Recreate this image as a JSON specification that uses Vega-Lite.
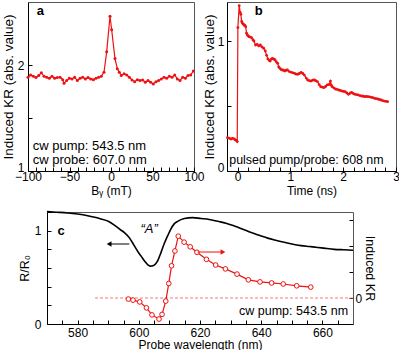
{
 "$schema": "https://vega.github.io/schema/vega-lite/v6.json",
 "padding": {"left": 0, "top": 1, "right": 0, "bottom": 0},
 "background": "white",
 "config": {
  "view": {"stroke": "#555", "strokeWidth": 1},
  "font": "Liberation Sans",
  "axis": {"grid": false, "domainColor": "black", "tickColor": "black", "labelColor": "black", "titleColor": "black", "labelFont": "Liberation Sans", "titleFont": "Liberation Sans", "labelFontSize": 12, "titleFontSize": 12, "titleFontWeight": "normal", "tickSize": -4, "domainWidth": 1, "tickWidth": 1, "labelFlush": false, "labelOverlap": false},
  "text": {"font": "Liberation Sans", "fontSize": 12, "color": "black"}
 },
 "spacing": 9,
 "datasets": {
  "a": [
   {"B": -100, "v": 1.888}, {"B": -96.8, "v": 1.91}, {"B": -93.6, "v": 1.897}, {"B": -90.4, "v": 1.885}, {"B": -87.1, "v": 1.904}, {"B": -83.9, "v": 1.929}, {"B": -80.7, "v": 1.897}, {"B": -77.5, "v": 1.888}, {"B": -74.3, "v": 1.878}, {"B": -71.1, "v": 1.897}, {"B": -67.9, "v": 1.878}, {"B": -64.7, "v": 1.885}, {"B": -61.4, "v": 1.888}, {"B": -58.2, "v": 1.865}, {"B": -56.6, "v": 1.83}, {"B": -53.4, "v": 1.856}, {"B": -50.2, "v": 1.878}, {"B": -47.0, "v": 1.872}, {"B": -43.8, "v": 1.888}, {"B": -40.6, "v": 1.856}, {"B": -37.3, "v": 1.878}, {"B": -34.1, "v": 1.888}, {"B": -30.9, "v": 1.872}, {"B": -27.7, "v": 1.885}, {"B": -24.5, "v": 1.872}, {"B": -21.3, "v": 1.865}, {"B": -18.1, "v": 1.878}, {"B": -14.9, "v": 1.888}, {"B": -11.6, "v": 1.897}, {"B": -8.4, "v": 1.936}, {"B": -5.2, "v": 2.128}, {"B": -1.2, "v": 2.465}, {"B": 0.8, "v": 2.337}, {"B": 4.8, "v": 2.064}, {"B": 7.6, "v": 1.968}, {"B": 10.0, "v": 1.936}, {"B": 12.4, "v": 1.904}, {"B": 15.7, "v": 1.92}, {"B": 18.9, "v": 1.91}, {"B": 22.1, "v": 1.888}, {"B": 25.3, "v": 1.862}, {"B": 28.5, "v": 1.846}, {"B": 31.7, "v": 1.865}, {"B": 34.9, "v": 1.856}, {"B": 38.2, "v": 1.862}, {"B": 41.4, "v": 1.84}, {"B": 44.6, "v": 1.856}, {"B": 47.8, "v": 1.84}, {"B": 51.0, "v": 1.824}, {"B": 54.2, "v": 1.846}, {"B": 57.4, "v": 1.856}, {"B": 60.6, "v": 1.872}, {"B": 63.9, "v": 1.888}, {"B": 67.1, "v": 1.878}, {"B": 70.3, "v": 1.897}, {"B": 73.5, "v": 1.888}, {"B": 76.7, "v": 1.91}, {"B": 79.9, "v": 1.872}, {"B": 83.1, "v": 1.856}, {"B": 86.3, "v": 1.888}, {"B": 89.6, "v": 1.878}, {"B": 92.8, "v": 1.904}, {"B": 96.0, "v": 1.91}, {"B": 99.2, "v": 1.946}
  ],
  "b": [
   {"t": -0.19, "v": 0.256}, {"t": -0.154, "v": 0.251}, {"t": -0.123, "v": 0.246}, {"t": -0.093, "v": 0.251}, {"t": -0.062, "v": 0.246}, {"t": -0.043, "v": 0.238}, {"t": -0.02, "v": 0.236}, {"t": -0.006, "v": 0.226}, {"t": 0.006, "v": 1.103}, {"t": 0.031, "v": 1.272}, {"t": 0.05, "v": 1.22}, {"t": 0.062, "v": 1.205}, {"t": 0.078, "v": 1.15}, {"t": 0.093, "v": 1.136}, {"t": 0.108, "v": 1.13}, {"t": 0.123, "v": 1.123}, {"t": 0.138, "v": 1.12}, {"t": 0.154, "v": 1.11}, {"t": 0.17, "v": 1.06}, {"t": 0.185, "v": 1.046}, {"t": 0.2, "v": 1.04}, {"t": 0.216, "v": 1.033}, {"t": 0.24, "v": 1.03}, {"t": 0.265, "v": 1.026}, {"t": 0.29, "v": 1.01}, {"t": 0.309, "v": 1.0}, {"t": 0.34, "v": 0.969}, {"t": 0.37, "v": 0.974}, {"t": 0.401, "v": 0.962}, {"t": 0.432, "v": 0.969}, {"t": 0.46, "v": 0.955}, {"t": 0.494, "v": 0.944}, {"t": 0.525, "v": 0.923}, {"t": 0.55, "v": 0.89}, {"t": 0.574, "v": 0.862}, {"t": 0.6, "v": 0.85}, {"t": 0.617, "v": 0.846}, {"t": 0.64, "v": 0.86}, {"t": 0.66, "v": 0.867}, {"t": 0.69, "v": 0.86}, {"t": 0.71, "v": 0.854}, {"t": 0.735, "v": 0.84}, {"t": 0.759, "v": 0.828}, {"t": 0.78, "v": 0.8}, {"t": 0.802, "v": 0.79}, {"t": 0.825, "v": 0.78}, {"t": 0.846, "v": 0.777}, {"t": 0.87, "v": 0.775}, {"t": 0.895, "v": 0.769}, {"t": 0.92, "v": 0.775}, {"t": 0.944, "v": 0.777}, {"t": 0.98, "v": 0.765}, {"t": 1.019, "v": 0.759}, {"t": 1.05, "v": 0.755}, {"t": 1.08, "v": 0.751}, {"t": 1.11, "v": 0.745}, {"t": 1.142, "v": 0.744}, {"t": 1.17, "v": 0.75}, {"t": 1.204, "v": 0.759}, {"t": 1.235, "v": 0.75}, {"t": 1.265, "v": 0.738}, {"t": 1.3, "v": 0.715}, {"t": 1.327, "v": 0.7}, {"t": 1.36, "v": 0.695}, {"t": 1.389, "v": 0.692}, {"t": 1.42, "v": 0.698}, {"t": 1.451, "v": 0.7}, {"t": 1.48, "v": 0.695}, {"t": 1.512, "v": 0.687}, {"t": 1.545, "v": 0.665}, {"t": 1.574, "v": 0.649}, {"t": 1.605, "v": 0.645}, {"t": 1.636, "v": 0.641}, {"t": 1.667, "v": 0.65}, {"t": 1.698, "v": 0.662}, {"t": 1.73, "v": 0.665}, {"t": 1.759, "v": 0.692}, {"t": 1.775, "v": 0.66}, {"t": 1.79, "v": 0.649}, {"t": 1.82, "v": 0.64}, {"t": 1.852, "v": 0.631}, {"t": 1.88, "v": 0.628}, {"t": 1.914, "v": 0.623}, {"t": 1.945, "v": 0.62}, {"t": 1.975, "v": 0.615}, {"t": 2.006, "v": 0.612}, {"t": 2.037, "v": 0.61}, {"t": 2.068, "v": 0.6}, {"t": 2.099, "v": 0.59}, {"t": 2.13, "v": 0.598}, {"t": 2.16, "v": 0.605}, {"t": 2.19, "v": 0.596}, {"t": 2.222, "v": 0.59}, {"t": 2.253, "v": 0.588}, {"t": 2.284, "v": 0.585}, {"t": 2.315, "v": 0.58}, {"t": 2.346, "v": 0.577}, {"t": 2.377, "v": 0.575}, {"t": 2.407, "v": 0.572}, {"t": 2.438, "v": 0.574}, {"t": 2.469, "v": 0.572}, {"t": 2.5, "v": 0.57}, {"t": 2.531, "v": 0.567}, {"t": 2.562, "v": 0.564}, {"t": 2.593, "v": 0.559}, {"t": 2.62, "v": 0.557}, {"t": 2.654, "v": 0.554}, {"t": 2.685, "v": 0.55}, {"t": 2.716, "v": 0.546}, {"t": 2.747, "v": 0.542}, {"t": 2.778, "v": 0.538}, {"t": 2.81, "v": 0.536}, {"t": 2.84, "v": 0.533}
  ],
  "cr": [
   {"lam": 570, "r": 1.204}, {"lam": 573, "r": 1.198}, {"lam": 576.8, "r": 1.19}, {"lam": 580, "r": 1.178}, {"lam": 583.3, "r": 1.16}, {"lam": 586, "r": 1.14}, {"lam": 587.6, "r": 1.125}, {"lam": 590, "r": 1.1}, {"lam": 592, "r": 1.06}, {"lam": 594, "r": 1.01}, {"lam": 595.3, "r": 0.98}, {"lam": 597, "r": 0.92}, {"lam": 598.5, "r": 0.84}, {"lam": 600, "r": 0.76}, {"lam": 600.7, "r": 0.73}, {"lam": 602, "r": 0.67}, {"lam": 603.7, "r": 0.62}, {"lam": 605, "r": 0.63}, {"lam": 606.2, "r": 0.68}, {"lam": 607.3, "r": 0.77}, {"lam": 608.3, "r": 0.86}, {"lam": 609.5, "r": 0.95}, {"lam": 610.5, "r": 1.02}, {"lam": 611.5, "r": 1.07}, {"lam": 612.7, "r": 1.1}, {"lam": 614.9, "r": 1.13}, {"lam": 617.6, "r": 1.14}, {"lam": 620.3, "r": 1.13}, {"lam": 623, "r": 1.12}, {"lam": 625.8, "r": 1.1}, {"lam": 628.5, "r": 1.08}, {"lam": 631.2, "r": 1.05}, {"lam": 634, "r": 1.015}, {"lam": 636.7, "r": 0.98}, {"lam": 639.4, "r": 0.95}, {"lam": 642.1, "r": 0.92}, {"lam": 645, "r": 0.895}, {"lam": 647.5, "r": 0.875}, {"lam": 650, "r": 0.857}, {"lam": 653, "r": 0.84}, {"lam": 655.7, "r": 0.83}, {"lam": 658.5, "r": 0.82}, {"lam": 661, "r": 0.81}, {"lam": 663.9, "r": 0.8}, {"lam": 667, "r": 0.795}, {"lam": 670, "r": 0.79}
  ],
  "ckr": [
   {"lam": 596.6, "kr": -0.04}, {"lam": 598.1, "kr": -0.08}, {"lam": 600.3, "kr": -0.15}, {"lam": 602.5, "kr": -0.38}, {"lam": 604.3, "kr": -0.65}, {"lam": 606.6, "kr": -0.81}, {"lam": 607.6, "kr": -0.63}, {"lam": 608.8, "kr": -0.12}, {"lam": 609.8, "kr": 0.56}, {"lam": 610.7, "kr": 1.24}, {"lam": 611.8, "kr": 1.81}, {"lam": 612.9, "kr": 2.38}, {"lam": 614.8, "kr": 2.15}, {"lam": 616.8, "kr": 1.97}, {"lam": 619.0, "kr": 1.76}, {"lam": 622.1, "kr": 1.49}, {"lam": 625.1, "kr": 1.27}, {"lam": 628.3, "kr": 1.12}, {"lam": 632.1, "kr": 0.92}, {"lam": 635.8, "kr": 0.7}, {"lam": 639.6, "kr": 0.62}, {"lam": 643.4, "kr": 0.58}, {"lam": 647.2, "kr": 0.54}, {"lam": 651.6, "kr": 0.47}, {"lam": 656.2, "kr": 0.42}
  ]
 },
 "vconcat": [
  {
   "bounds": "flush",
   "spacing": 33,
   "hconcat": [
    {
     "width": 166, "height": 169,
     "layer": [
      {
       "data": {"name": "a"},
       "mark": {"type": "line", "color": "#ee1111", "strokeWidth": 1.2, "point": {"filled": true, "size": 9, "color": "#ee1111"}},
       "encoding": {
        "x": {"field": "B", "type": "quantitative", "scale": {"domain": [-100, 100], "nice": false, "zero": false},
              "axis": {"title": "Bᵧ (mT)", "tickCount": 1000, "values": [-100,-90,-80,-70,-60,-50,-40,-30,-20,-10,0,10,20,30,40,50,60,70,80,90,100], "labelExpr": "datum.value % 50 === 0 ? format(datum.value, 'd') : ''", "labelOverlap": false, "labelPadding": 4, "titlePadding": 3}},
        "y": {"field": "v", "type": "quantitative", "scale": {"domain": [1, 2.6], "nice": false, "zero": false},
              "axis": {"title": "Induced KR (abs. value)", "tickCount": 1000, "titleFontSize": 13.5, "values": [1, 1.5, 2], "labelExpr": "datum.value % 1 === 0 ? format(datum.value, 'd') : ''", "labelBaseline": {"condition": {"test": "datum.value === 1", "value": "alphabetic"}, "value": "middle"}, "labelOverlap": false, "labelPadding": 8, "titlePadding": 2}}
       }
      },
      {
       "data": {"values": [{}]},
       "mark": {"type": "text", "fontWeight": "bold", "fontSize": 13, "align": "center", "baseline": "middle"},
       "encoding": {"x": {"datum": -85.2, "type": "quantitative"}, "y": {"datum": 2.515, "type": "quantitative"}, "text": {"value": "a"}}
      },
      {
       "data": {"values": [{}]},
       "mark": {"type": "text", "align": "left", "baseline": "middle", "fontSize": 13},
       "encoding": {"x": {"datum": -94.3, "type": "quantitative"}, "y": {"datum": 1.232, "type": "quantitative"}, "text": {"value": "cw pump: 543.5 nm"}}
      },
      {
       "data": {"values": [{}]},
       "mark": {"type": "text", "align": "left", "baseline": "middle", "fontSize": 13},
       "encoding": {"x": {"datum": -94.3, "type": "quantitative"}, "y": {"datum": 1.108, "type": "quantitative"}, "text": {"value": "cw probe: 607.0 nm"}}
      }
     ]
    },
    {
     "width": 169, "height": 169,
     "layer": [
      {
       "data": {"name": "b"},
       "mark": {"type": "line", "color": "#ee1111", "strokeWidth": 1.2, "point": {"filled": true, "size": 8, "color": "#ee1111"}},
       "encoding": {
        "x": {"field": "t", "type": "quantitative", "scale": {"domain": [-0.2, 3], "nice": false, "zero": false},
              "axis": {"title": "Time (ns)", "tickCount": 1000, "values": [0,0.2,0.4,0.6,0.8,1,1.2,1.4,1.6,1.8,2,2.2,2.4,2.6,2.8,3], "labelExpr": "abs(datum.value - round(datum.value)) < 0.001 ? format(datum.value, 'd') : ''", "labelOverlap": false, "labelPadding": 4, "titlePadding": 3}},
        "y": {"field": "v", "type": "quantitative", "scale": {"domain": [0, 1.3], "nice": false, "zero": false},
              "axis": {"title": "Induced KR (abs. value)", "tickCount": 1000, "titleFontSize": 13.5, "values": [0, 0.5, 1], "labelExpr": "datum.value % 1 === 0 ? format(datum.value, 'd') : ''", "labelBaseline": {"condition": {"test": "datum.value === 0", "value": "alphabetic"}, "value": "middle"}, "labelOverlap": false, "labelPadding": 7, "titlePadding": 1}}
       }
      },
      {
       "data": {"values": [{}]},
       "mark": {"type": "text", "fontWeight": "bold", "fontSize": 13, "align": "center", "baseline": "middle"},
       "encoding": {"x": {"datum": 0.4, "type": "quantitative"}, "y": {"datum": 1.23, "type": "quantitative"}, "text": {"value": "b"}}
      },
      {
       "data": {"values": [{}]},
       "mark": {"type": "text", "align": "left", "baseline": "middle", "fontSize": 12.4},
       "encoding": {"x": {"datum": -0.157, "type": "quantitative"}, "y": {"datum": 0.082, "type": "quantitative"}, "text": {"value": "pulsed pump/probe: 608 nm"}}
      }
     ]
    }
   ]
  },
  {
   "width": 325, "height": 112,
   "view": {"stroke": null},
   "resolve": {"scale": {"y": "independent"}},
   "layer": [
    {
     "layer": [
      {
       "data": {"name": "cr"},
       "mark": {"type": "line", "color": "black", "strokeWidth": 1.6, "interpolate": "monotone"},
       "encoding": {
        "x": {"field": "lam", "type": "quantitative", "scale": {"domain": [570, 670], "range": [19, 325], "nice": false, "zero": false},
              "axis": {"orient": "bottom", "title": "Probe wavelength (nm)", "tickCount": 1000, "values": [570,575,580,585,590,595,600,605,610,615,620,625,630,635,640,645,650,655,660,665,670], "labelExpr": "datum.value % 20 === 0 ? format(datum.value, 'd') : ''", "labelOverlap": false, "labelPadding": 7, "titlePadding": 1}},
        "y": {"field": "r", "type": "quantitative", "scale": {"domain": [0, 1.2], "nice": false, "zero": false},
              "axis": {"orient": "left", "offset": -19, "title": "R/R₀", "tickCount": 1000, "titleFontSize": 12.5, "values": [0, 0.2, 0.4, 0.6, 0.8, 1, 1.2], "labelExpr": "datum.value === 0 || datum.value === 1 ? format(datum.value, 'd') : ''", "labelOverlap": false, "labelPadding": 10, "titlePadding": 3}}
       }
      },
      {
       "data": {"values": [{}]},
       "mark": {"type": "rule", "color": "black", "strokeWidth": 1},
       "encoding": {"x": {"datum": 596.9, "type": "quantitative"}, "x2": {"datum": 590.5}, "y": {"datum": 0.857, "type": "quantitative"}}
      },
      {
       "data": {"values": [{}]},
       "mark": {"type": "point", "shape": "triangle-left", "filled": true, "color": "black", "size": 30, "opacity": 1},
       "encoding": {"x": {"datum": 590.3, "type": "quantitative"}, "y": {"datum": 0.857, "type": "quantitative"}}
      },
      {
       "data": {"values": [{}]},
       "mark": {"type": "text", "fontWeight": "bold", "fontSize": 13, "align": "center", "baseline": "middle"},
       "encoding": {"x": {"datum": 574.6, "type": "quantitative"}, "y": {"datum": 1.0, "type": "quantitative"}, "text": {"value": "c"}}
      },
      {
       "data": {"values": [{}]},
       "mark": {"type": "text", "fontStyle": "italic", "fontSize": 13, "align": "center", "baseline": "middle"},
       "encoding": {"x": {"datum": 603.4, "type": "quantitative"}, "y": {"datum": 1.018, "type": "quantitative"}, "text": {"value": "“A”"}}
      },
      {
       "data": {"values": [{}]},
       "mark": {"type": "text", "align": "right", "baseline": "middle", "fontSize": 12.5},
       "encoding": {"x": {"datum": 668.4, "type": "quantitative"}, "y": {"datum": 0.14, "type": "quantitative"}, "text": {"value": "cw pump: 543.5 nm"}}
      }
     ]
    },
    {
     "layer": [
      {
       "data": {"values": [{}]},
       "mark": {"type": "rule", "color": "#f47a7a", "strokeWidth": 1, "strokeDash": [3, 2]},
       "encoding": {"x": {"datum": 585.7, "type": "quantitative"}, "x2": {"datum": 670}, "y": {"datum": 0, "type": "quantitative"}}
      },
      {
       "data": {"name": "ckr"},
       "mark": {"type": "line", "color": "#ee1111", "strokeWidth": 1.2, "point": {"filled": false, "fill": "white", "size": 22, "strokeWidth": 1, "color": "#ee1111"}},
       "encoding": {
        "x": {"field": "lam", "type": "quantitative", "scale": {"domain": [570, 670], "range": [19, 325], "nice": false, "zero": false},
              "axis": {"orient": "top", "title": null, "labels": false, "ticks": false, "domainColor": "#555"}},
        "y": {"field": "kr", "type": "quantitative", "scale": {"domain": [-1, 3.31], "nice": false, "zero": false},
              "axis": {"orient": "right", "title": "Induced KR", "tickCount": 1000, "titleFontSize": 12.5, "domainColor": "#555", "values": [-1, 0, 1, 2, 3], "labelExpr": "datum.value === 0 ? format(datum.value, 'd') : ''", "labelOverlap": false, "labelPadding": 6, "titlePadding": 1}}
       }
      },
      {
       "data": {"values": [{}]},
       "mark": {"type": "rule", "color": "#ee1111", "strokeWidth": 1},
       "encoding": {"x": {"datum": 619.2, "type": "quantitative"}, "x2": {"datum": 627.4}, "y": {"datum": 1.77, "type": "quantitative"}}
      },
      {
       "data": {"values": [{}]},
       "mark": {"type": "point", "shape": "triangle-right", "filled": true, "color": "#ee1111", "size": 30, "opacity": 1},
       "encoding": {"x": {"datum": 627.5, "type": "quantitative"}, "y": {"datum": 1.77, "type": "quantitative"}}
      }
     ]
    }
   ]
  }
 ]
}
